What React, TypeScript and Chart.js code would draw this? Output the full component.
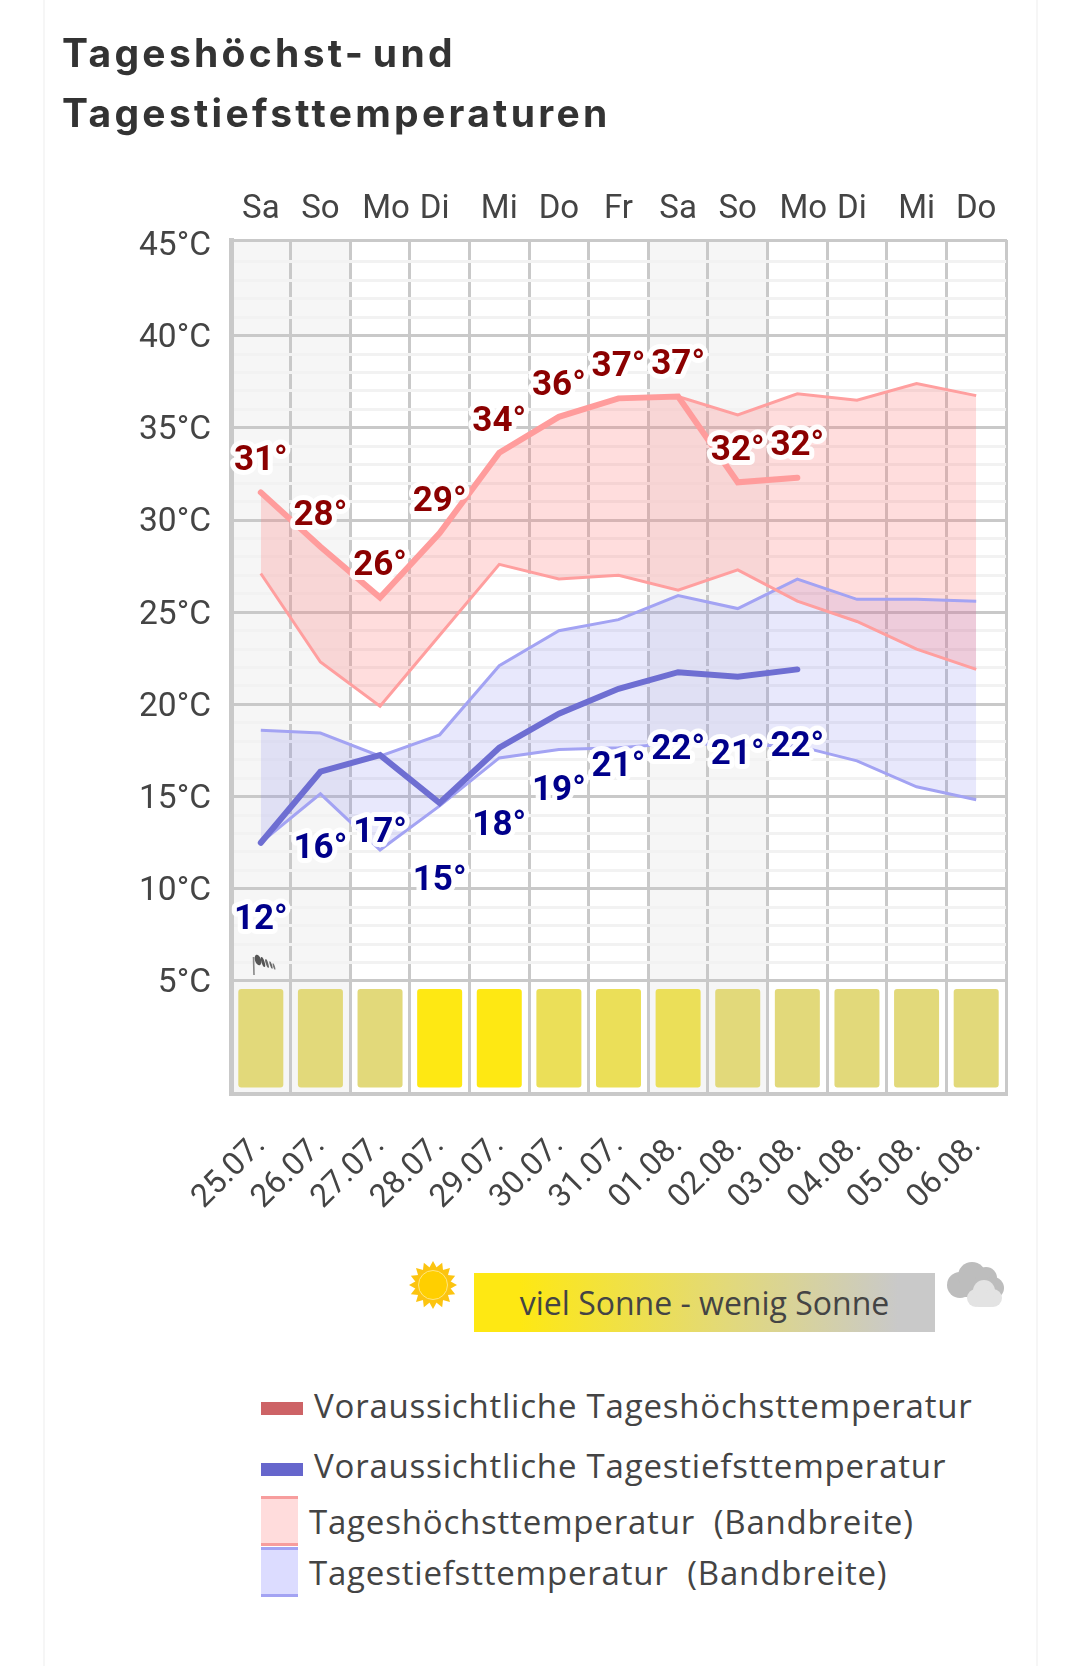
import React, { useEffect, useRef } from "react";
import { Chart, registerables } from "chart.js";

Chart.register(...registerables);

const dates = ["25.07.", "26.07.", "27.07.", "28.07.", "29.07.", "30.07.", "31.07.", "01.08.", "02.08.", "03.08.", "04.08.", "05.08.", "06.08."];
const weekdays = ["Sa", "So", "Mo", "Di", "Mi", "Do", "Fr", "Sa", "So", "Mo", "Di", "Mi", "Do"];
const weekendIndexes = [0, 1, 7, 8];
const yTicks = [45, 44, 43, 42, 41, 40, 39, 38, 37, 36, 35, 34, 33, 32, 31, 30, 29, 28, 27, 26, 25, 24, 23, 22, 21, 20, 19, 18, 17, 16, 15, 14, 13, 12, 11, 10, 9, 8, 7, 6, 5];

const forecastHigh = [31.5, 28.55, 25.8, 29.3, 33.65, 35.6, 36.6, 36.7, 32.05, 32.3, null, null, null];
const forecastLow = [12.5, 16.35, 17.25, 14.65, 17.65, 19.5, 20.85, 21.75, 21.5, 21.9, null, null, null];
const highLabels = [31, 28, 26, 29, 34, 36, 37, 37, 32, 32];
const lowLabels = [12, 16, 17, 15, 18, 19, 21, 22, 21, 22];

const highBandTop = [31.5, 28.55, 25.8, 29.3, 33.65, 35.6, 36.6, 36.7, 35.7, 36.85, 36.5, 37.4, 36.75];
const highBandBottom = [27.1, 22.3, 19.9, 23.75, 27.6, 26.8, 27, 26.2, 27.3, 25.6, 24.5, 23, 21.9];
const lowBandTop = [18.6, 18.45, 17.2, 18.35, 22.1, 24, 24.6, 25.9, 25.2, 26.8, 25.7, 25.7, 25.6];
const lowBandBottom = [12.5, 15.15, 12.1, 14.5, 17.1, 17.55, 17.65, 17.9, 17.8, 17.75, 16.94, 15.53, 14.83];

const sunBarBottom = -0.78;
const sunBarTop = 4.57;
const sunBarColors = ["#e2d97a", "#e2d97a", "#e2d97a", "#fee813", "#fee813", "#ebdf58", "#ebdf58", "#ebdf58", "#e2d97a", "#e2d97a", "#e2d97a", "#e2d97a", "#e2d97a"];

const legendRows = [
  { text: "Voraussichtliche Tageshöchsttemperatur", y: 1406, x: 314 },
  { text: "Voraussichtliche Tagestiefsttemperatur", y: 1466, x: 314 },
  { text: "Tageshöchsttemperatur  (Bandbreite)", y: 1522, x: 309 },
  { text: "Tagestiefsttemperatur  (Bandbreite)", y: 1573, x: 309 },
];

const WIDTH = 1076;
const CANVAS_H = 1260;
const GRID = "#c9c9c9";
const MINOR = "#f2f2f2";
const TEXT = "#444444";

const extras = {
  id: "extras",
  beforeDraw(chart: any) {
    const { ctx, chartArea, scales } = chart;
    const half = (scales.x.getPixelForValue(1) - scales.x.getPixelForValue(0)) / 2;
    ctx.save();
    ctx.fillStyle = "#f6f6f6";
    weekendIndexes.forEach((i) => {
      const c = scales.x.getPixelForValue(i);
      ctx.fillRect(c - half, chartArea.top, half * 2, chartArea.bottom - chartArea.top);
    });
    ctx.restore();
  },
  afterDatasetsDraw(chart: any) {
    const { ctx, scales } = chart;
    const put = (labels: number[], values: any[], dy: number, color: string) => {
      labels.forEach((v, i) => {
        const x = scales.x.getPixelForValue(i);
        const y = scales.y.getPixelForValue(values[i]) + dy;
        ctx.font = "bold 35px Roboto";
        ctx.textAlign = "center";
        ctx.textBaseline = "middle";
        ctx.lineJoin = "round";
        ctx.lineWidth = 10;
        ctx.strokeStyle = "rgba(255,255,255,0.95)";
        ctx.strokeText(v + "°", x, y);
        ctx.fillStyle = color;
        ctx.fillText(v + "°", x, y);
      });
    };
    ctx.save();
    put(lowLabels, forecastLow, 78, "#00008b");
    put(highLabels, forecastHigh, -31, "#8b0000");
    ctx.restore();
  },
};

function SunIcon() {
  const rays = [];
  for (let i = 0; i < 16; i++) {
    rays.push(<polygon key={i} points="-5,-15 5,-15 0,-24" fill="#fcc410" transform={`rotate(${i * 22.5})`} />);
  }
  return (
    <svg width="50" height="50" viewBox="-25 -25 50 50" style={{ position: "absolute", left: 408, top: 1260 }}>
      {rays}
      <circle r="17" fill="#fcc410" />
      <circle r="14.5" fill="#ffcf00" stroke="#ffe680" strokeWidth="1" />
    </svg>
  );
}

function CloudIcon() {
  return (
    <svg width="60" height="48" viewBox="0 0 60 48" style={{ position: "absolute", left: 946, top: 1261 }}>
      <g fill="#bdbdbd">
        <circle cx="14" cy="24" r="13" />
        <circle cx="26" cy="15" r="14" />
        <circle cx="40" cy="17" r="11" />
        <circle cx="47" cy="27" r="11" />
        <rect x="14" y="18" width="32" height="18" />
      </g>
      <g fill="#e3e3e3">
        <circle cx="30" cy="37" r="9" />
        <circle cx="38" cy="30" r="11" />
        <circle cx="47" cy="37" r="9" />
        <rect x="30" y="34" width="18" height="12" rx="3" />
      </g>
    </svg>
  );
}

function WindIcon() {
  return (
    <svg width="24" height="22" viewBox="0 0 24 22" style={{ position: "absolute", left: 252, top: 954 }}>
      <line x1="1.5" y1="3" x2="2" y2="21" stroke="#888" strokeWidth="1.6" />
      <ellipse cx="6" cy="6" rx="3" ry="5.5" fill="#555" transform="rotate(-18 6 6)" />
      <ellipse cx="11" cy="8" rx="1.5" ry="5.2" fill="#555" transform="rotate(-18 11 8)" />
      <ellipse cx="15" cy="9.5" rx="1.2" ry="4.6" fill="#666" transform="rotate(-18 15 9.5)" />
      <ellipse cx="19" cy="11" rx="1" ry="4" fill="#666" transform="rotate(-18 19 11)" />
      <ellipse cx="22" cy="12.5" rx=".9" ry="3.4" fill="#777" transform="rotate(-18 22 12.5)" />
    </svg>
  );
}

function Swatch(p: { x: number; y: number; w: number; h: number; c: string }) {
  return <div style={{ position: "absolute", left: p.x, top: p.y, width: p.w, height: p.h, background: p.c }} />;
}

export default function App() {
  const ref = useRef<HTMLCanvasElement>(null);
  useEffect(() => {
    const chart = new Chart(ref.current as HTMLCanvasElement, {
      data: {
        labels: dates,
        datasets: [
          { type: "line", label: "Voraussichtliche Tageshöchsttemperatur", data: forecastHigh, borderColor: "#ff9c9c", borderWidth: 6, pointRadius: 0, tension: 0, fill: false, borderCapStyle: "round" },
          { type: "line", label: "Voraussichtliche Tagestiefsttemperatur", data: forecastLow, borderColor: "#6e6ed2", borderWidth: 6, pointRadius: 0, tension: 0, fill: false, borderCapStyle: "round" },
          { type: "line", label: "Tageshöchsttemperatur (Bandbreite)", data: highBandTop, borderColor: "#ff9f9f", backgroundColor: "rgba(255,120,120,0.25)", borderWidth: 3, pointRadius: 0, tension: 0, fill: { target: 3 } },
          { type: "line", label: "high band bottom", data: highBandBottom, borderColor: "#ff9f9f", borderWidth: 3, pointRadius: 0, tension: 0, fill: false },
          { type: "line", label: "Tagestiefsttemperatur (Bandbreite)", data: lowBandTop, borderColor: "#a3a3f3", backgroundColor: "rgba(120,120,240,0.17)", borderWidth: 3, pointRadius: 0, tension: 0, fill: { target: 5 } },
          { type: "line", label: "low band bottom", data: lowBandBottom, borderColor: "#a3a3f3", borderWidth: 3, pointRadius: 0, tension: 0, fill: false },
          { type: "bar", label: "Sonne", data: dates.map(() => [sunBarBottom, sunBarTop]), backgroundColor: sunBarColors, barPercentage: 0.755, categoryPercentage: 1, borderRadius: 3, borderSkipped: false },
        ],
      } as any,
      options: {
        responsive: false,
        animation: false,
        layout: { padding: { left: 0, top: 0, right: 70, bottom: 0 } },
        plugins: { legend: { display: false }, tooltip: { enabled: false }, title: { display: false }, filler: { drawTime: "beforeDatasetsDraw" } },
        scales: {
          x: {
            type: "category",
            offset: true,
            position: "bottom",
            grid: { color: GRID, lineWidth: 3, drawTicks: false, offset: true },
            border: { color: GRID, width: 4 },
            ticks: { color: TEXT, font: { family: "Roboto", size: 32 }, minRotation: 45, maxRotation: 45, padding: 33, autoSkip: false },
            afterFit: (s: any) => { s.height = CANVAS_H - 1094; },
          },
          x2: {
            type: "category",
            offset: true,
            position: "top",
            labels: weekdays,
            grid: { display: false },
            border: { color: GRID, width: 3 },
            ticks: { color: TEXT, font: { family: "Roboto", size: 33 }, maxRotation: 0, padding: 2, autoSkip: false },
            afterFit: (s: any) => { s.height = 240; },
            afterBuildTicks: (s: any) => {
              if (s.__nudged) return;
              s.__nudged = true;
              const base = s.getPixelForTick.bind(s);
              const nudge: Record<string, number> = { Mo: 6, Di: -5 };
              s.getPixelForTick = (i: number) => base(i) + (nudge[weekdays[i]] || 0);
            },
          },
          y: {
            type: "linear",
            min: -1.13,
            max: 45.19,
            grid: {
              color: (c: any) => {
                const v = c.tick ? c.tick.value : 0;
                if (v === 45) return "rgba(0,0,0,0)";
                return v % 5 === 0 ? GRID : MINOR;
              },
              lineWidth: 3,
              drawTicks: false,
            },
            border: { color: GRID, width: 5 },
            ticks: {
              color: TEXT,
              font: { family: "Roboto", size: 33.5 },
              padding: 20,
              labelOffset: 3,
              autoSkip: false,
              callback: (v: any) => (v % 5 === 0 ? `${v}°C` : ""),
            },
            afterBuildTicks: (s: any) => { s.ticks = yTicks.map((value) => ({ value })); },
            afterFit: (s: any) => { s.width = 231; },
          },
        },
      } as any,
      plugins: [extras],
    });
    return () => chart.destroy();
  }, []);

  const legendFont = { fontFamily: "'Open Sans'", fontSize: 33, letterSpacing: 0.8, color: TEXT, lineHeight: "44px" };

  return (
    <div style={{ position: "relative", width: WIDTH, height: 1666, overflow: "hidden", background: "#fff" }}>
      <style>{`html,body{margin:0;padding:0;background:#fff;overflow:hidden}`}</style>
      <div style={{ position: "absolute", left: 43, top: 0, width: 2, height: 1666, background: "#f6f6f6" }} />
      <div style={{ position: "absolute", left: 1036, top: 0, width: 2, height: 1666, background: "#f6f6f6" }} />
      <canvas ref={ref} width={WIDTH} height={CANVAS_H} style={{ position: "absolute", left: 0, top: 0, display: "block" }} />
      <div style={{ position: "absolute", left: 62, top: 23, fontFamily: "Inter", fontWeight: 700, fontSize: 39, lineHeight: "60px", letterSpacing: 3.3, wordSpacing: -6, color: "#333" }}>
        Tageshöchst- und<br />Tagestiefsttemperaturen
      </div>
      <WindIcon />
      <SunIcon />
      <div style={{ position: "absolute", left: 474, top: 1273, width: 461, height: 59, background: "linear-gradient(90deg,#fee813 0%,#fee813 10%,#e2d97a 55%,#c9c9c9 92%)", textAlign: "center", fontFamily: "'Open Sans'", fontSize: 32, color: TEXT, lineHeight: "59px" }}>
        viel Sonne - wenig Sonne
      </div>
      <CloudIcon />
      <Swatch x={261} y={1402} w={42} h={13} c="#cd6366" />
      <Swatch x={261} y={1463} w={42} h={13} c="#6666cc" />
      <Swatch x={261} y={1496} w={37} h={50} c="#ffdcdc" />
      <Swatch x={261} y={1496} w={37} h={3} c="#f79d9d" />
      <Swatch x={261} y={1543} w={37} h={3} c="#f79d9d" />
      <Swatch x={261} y={1547} w={37} h={50} c="#dcdcff" />
      <Swatch x={261} y={1547} w={37} h={3} c="#a3a3f3" />
      <Swatch x={261} y={1594} w={37} h={3} c="#a3a3f3" />
      {legendRows.map((r) => (
        <div key={r.text} style={{ position: "absolute", left: r.x, top: r.y - 22, whiteSpace: "pre", ...legendFont }}>{r.text}</div>
      ))}
    </div>
  );
}
